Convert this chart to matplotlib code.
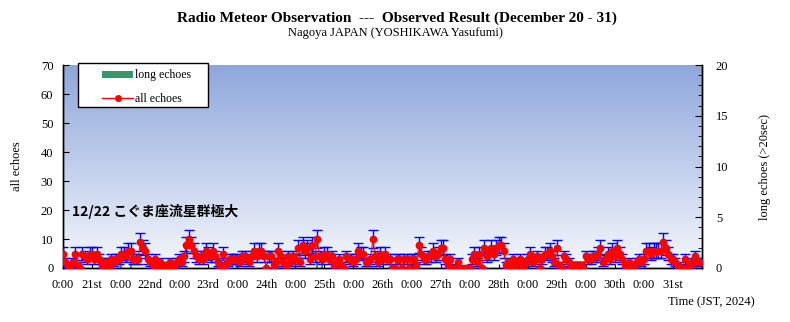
import numpy as np
import matplotlib
matplotlib.use("Agg")
import matplotlib.pyplot as plt
from matplotlib.patches import Patch, Rectangle
from matplotlib.lines import Line2D

# ---- data (hourly counts starting Dec 20 0:00 JST) ----
all_echoes = [
    # Dec 20 - Dec 22 (hours 0-68)
    5, 2, 1, 0, 2, 5, 1, 0, 5, 4, 3, 5, 5, 3, 5, 3, 1, 2, 2, 0, 3, 2, 3, 3,
    5, 5, 4, 6, 6, 3, 3, 3, 9, 7, 6, 3, 2, 1, 3, 1, 2, 0, 1, 0, 2, 1, 1, 2,
    3, 2, 4, 8, 10, 8, 6, 4, 3, 4, 3, 6, 5, 4, 6, 4, 2, 0, 5, 1, 2,
    # hours 69-138
    3, 3, 3, 3, 2, 4, 4, 3, 2, 4, 6, 4, 6, 6, 4, 0, 4, 4, 1, 2, 6, 4, 2, 1,
    4, 2, 4, 3, 7, 2, 8, 6, 7, 3, 8, 4, 10, 4, 3, 5, 5, 3, 4, 1, 2, 3, 1, 0,
    4, 3, 3, 2, 3, 6, 5, 5, 2, 2, 3, 10, 4, 2, 5, 3, 5, 3, 3, 0, 0, 3,
    # hours 139-199
    3, 0, 3, 3, 0, 3, 3, 1, 8, 5, 3, 3, 4, 4, 6, 4, 5, 7, 7, 3, 1, 3, 0, 0,
    2, 0, 0, 0, 0, 0, 3, 5, 2, 5, 0, 7, 4, 5, 7, 5, 7, 8, 8, 6, 1, 2, 1, 3,
    1, 2, 3, 0, 2, 3, 5, 2, 3, 4, 0, 3, 5,
    # hours 200-263
    5, 6, 4, 2, 7, 1, 0, 4, 3, 2, 0, 1, 1, 1, 1, 0, 4, 3, 3, 4, 4, 5, 7, 2,
    3, 5, 3, 6, 4, 7, 5, 3, 1, 1, 2, 0, 1, 2, 3, 2, 3, 6, 6, 5, 6, 6, 6, 6,
    9, 7, 5, 3, 3, 2, 1, 0, 0, 3, 0, 1, 2, 4, 2, 2,
]
long_hours = [24, 28, 105, 107]
long_counts = [1, 1, 1, 1]

day_labels = ["21st", "22nd", "23rd", "24th", "25th", "26th", "27th",
              "28th", "29th", "30th", "31st"]
tick_labels = []
for d in day_labels:
    tick_labels += ["0:00", d]

title = "Radio Meteor Observation  ---  Observed Result (December 20 - 31)"
subtitle = "Nagoya JAPAN (YOSHIKAWA Yasufumi)"
note = "12/22 こぐま座流星群極大"

hours = np.arange(len(all_echoes))
counts = np.array(all_echoes, dtype=float)
err = np.sqrt(counts)

serif = ["Liberation Serif", "DejaVu Serif"]
plt.rcParams["font.family"] = serif

fig = plt.figure(figsize=(7.9, 3.22), dpi=100)
ax2 = fig.add_axes([63/790, 1-268/322, (702-63)/790, (268-65)/322])
ax = ax2.twinx()  # holds all echoes (left axis), drawn on top
ax.set_zorder(ax2.get_zorder() + 1)
ax.patch.set_visible(False)

ax.yaxis.tick_left()
ax.yaxis.set_label_position("left")
ax2.yaxis.tick_right()
ax2.yaxis.set_label_position("right")

# gradient background
grad = np.linspace(0, 1, 256).reshape(-1, 1)
top = np.array([142, 167, 219]) / 255
bot = np.array([245, 247, 252]) / 255
img = top[None, None, :] * (1 - grad[:, :, None]) + bot[None, None, :] * grad[:, :, None]
ax2.imshow(img, aspect="auto", extent=[0, 1, 0, 1], transform=ax2.transAxes, zorder=0)

# long echoes bars
ax2.bar(long_hours, long_counts, width=1.0, color="#339966", zorder=2)
ax2.set_ylim(0, 20)
ax2.set_yticks([0, 5, 10, 15, 20])
ax2.set_yticks(np.arange(0, 21, 1), minor=True)

# all echoes
ax.errorbar(hours, counts, yerr=err, fmt="none", ecolor="#0000FF",
            elinewidth=1.0, capsize=3.5, capthick=1.0, zorder=3)
ax.plot(hours, counts, "-", color="#FF0000", lw=0.7, zorder=4)
ax.plot(hours, counts, "o", color="#FF0000", ms=4.6, mec="#FF0000", zorder=5)
ax.set_ylim(0, 70)
ax.set_yticks(np.arange(0, 71, 10))

xmax = 264
ax2.set_xlim(0, xmax)
ax2.set_xticks(np.arange(0, 12 * len(tick_labels), 12))
ax2.set_xticklabels(tick_labels, fontsize=9)

for a in (ax, ax2):
    a.spines["top"].set_visible(False)
    for s in ("left", "right", "bottom"):
        a.spines[s].set_color("black")
        a.spines[s].set_linewidth(1.0)

ax.tick_params(axis="y", direction="in", length=4, labelsize=9, pad=7)
ax2.tick_params(axis="y", which="major", direction="in", length=5, labelsize=9, pad=10)
ax2.tick_params(axis="y", which="minor", direction="in", length=3)
ax2.tick_params(axis="x", direction="in", length=3, pad=8)

ax.set_ylabel("all echoes", fontsize=9, labelpad=13)
ax2.set_ylabel("long echoes (>20sec)", fontsize=9, labelpad=22)

# legend: frame drawn as a rectangle, entries inside
box = Rectangle((78/790, 1-107/322), (208-78)/790, (107-63)/322,
                transform=fig.transFigure, facecolor="white",
                edgecolor="black", lw=1.0, zorder=7)
fig.add_artist(box)
handles = [Patch(facecolor="#339966", edgecolor="none"),
           Line2D([0], [0], color="#FF0000", lw=1, marker="o", ms=4)]
leg = fig.legend(handles, ["long echoes", "all echoes"], loc="upper left",
                 bbox_to_anchor=(100/790, 1-67/322), frameon=False,
                 fontsize=8.5, handlelength=2.6, handleheight=0.55,
                 labelspacing=0.95, borderpad=0.2, handletextpad=0.15,
                 borderaxespad=0)
leg.set_zorder(8)

ax.text(0.014, 0.28, note, transform=ax.transAxes, fontsize=10,
        fontweight="bold", family=["Noto Sans CJK JP", "DejaVu Sans"],
        va="center", ha="left", zorder=6)

fig.text(397/790, 1-18/322, title, ha="center", va="center",
         fontsize=11, fontweight="bold")
fig.text(395/790, 1-33/322, subtitle, ha="center", va="center", fontsize=9)
fig.text(755/790, 1-302/322, "Time (JST, 2024)", ha="right", va="center", fontsize=9)

fig.savefig("out.png", dpi=100)
